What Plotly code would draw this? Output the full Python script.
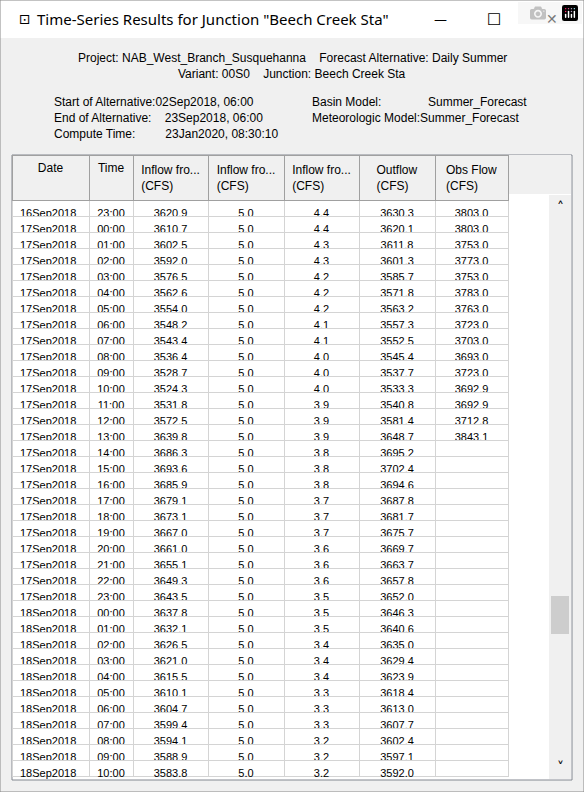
import plotly.graph_objects as go

# table data
dates = ["16Sep2018"] + ["17Sep2018"] * 24 + ["18Sep2018"] * 11
times = ["23:00"] + [f"{h:02d}:00" for h in range(24)] + [f"{h:02d}:00" for h in range(11)]
inflow_1 = [3620.9, 3610.7, 3602.5, 3592.0, 3576.5, 3562.6, 3554.0, 3548.2, 3543.4, 3536.4,
            3528.7, 3524.3, 3531.8, 3572.5, 3639.8, 3686.3, 3693.6, 3685.9, 3679.1, 3673.1,
            3667.0, 3661.0, 3655.1, 3649.3, 3643.5, 3637.8, 3632.1, 3626.5, 3621.0, 3615.5,
            3610.1, 3604.7, 3599.4, 3594.1, 3588.9, 3583.8]
inflow_2 = [5.0] * 36
inflow_3 = [4.4, 4.4, 4.3, 4.3, 4.2, 4.2, 4.2, 4.1, 4.1, 4.0, 4.0, 4.0, 3.9, 3.9, 3.9, 3.8,
            3.8, 3.8, 3.7, 3.7, 3.7, 3.6, 3.6, 3.6, 3.5, 3.5, 3.5, 3.4, 3.4, 3.4, 3.3, 3.3,
            3.3, 3.2, 3.2, 3.2]
outflow = [3630.3, 3620.1, 3611.8, 3601.3, 3585.7, 3571.8, 3563.2, 3557.3, 3552.5, 3545.4,
           3537.7, 3533.3, 3540.8, 3581.4, 3648.7, 3695.2, 3702.4, 3694.6, 3687.8, 3681.7,
           3675.7, 3669.7, 3663.7, 3657.8, 3652.0, 3646.3, 3640.6, 3635.0, 3629.4, 3623.9,
           3618.4, 3613.0, 3607.7, 3602.4, 3597.1, 3592.0]
obs_flow = [3803.0, 3803.0, 3753.0, 3773.0, 3753.0, 3783.0, 3763.0, 3723.0, 3703.0, 3693.0,
            3723.0, 3692.9, 3692.9, 3712.8, 3843.1]
headers = ["Date", "Time", "Inflow fro...<br>(CFS)", "Inflow fro...<br>(CFS)",
           "Inflow fro...<br>(CFS)", "Outflow<br>(CFS)", "Obs Flow<br>(CFS)"]

W, H = 584, 792


def px(x):
    return x / W


def py(y):
    return 1 - y / H


fmt = lambda v: f"{v:.1f}"
obs_col = [fmt(v) for v in obs_flow] + [""] * (len(dates) - len(obs_flow))

fig = go.Figure()
fig.add_trace(go.Table(
    domain=dict(x=[px(12), px(508)], y=[py(780), py(155)]),
    columnwidth=[77, 44, 75, 76, 75, 76, 73],
    header=dict(values=headers, fill_color="#F0F0F0", line_color="#A0A0A0",
                align="center", height=40,
                font=dict(family="Liberation Sans", size=12, color="black")),
    cells=dict(values=[dates, times, [fmt(v) for v in inflow_1], [fmt(v) for v in inflow_2],
                       [fmt(v) for v in inflow_3], [fmt(v) for v in outflow], obs_col],
               fill_color="white", line_color="#D4D4D4", height=16,
               align=["left", "center", "center", "center", "center", "center", "center"],
               font=dict(family="Liberation Sans", size=11, color="black"))))

shapes = [
    dict(type="rect", x0=0, x1=1, y0=py(38), y1=1, fillcolor="white", line_width=0, layer="below"),
    dict(type="rect", x0=px(12), x1=px(572), y0=py(780), y1=py(155), fillcolor="white",
         line=dict(color="#828790", width=1), layer="below"),
    dict(type="rect", x0=px(508), x1=px(571), y0=py(194), y1=py(155), fillcolor="#F0F0F0",
         line_width=0, layer="below"),
    dict(type="rect", x0=px(549), x1=px(571), y0=py(779), y1=py(195), fillcolor="#F0F0F0",
         line_width=0),
    dict(type="rect", x0=px(551), x1=px(569), y0=py(634), y1=py(596), fillcolor="#CDCDCD",
         line_width=0),
    dict(type="rect", x0=0, x1=1, y0=0, y1=1, line=dict(color="#888888", width=1),
         fillcolor="rgba(0,0,0,0)"),
]

ann = []


def text(x, y, s, size=12, anchor="left", family="Liberation Sans", color="black"):
    ann.append(dict(x=px(x), y=py(y), text=s, showarrow=False, xanchor=anchor, yanchor="middle",
                    font=dict(family=family, size=size, color=color)))


text(35, 19, 'Time-Series Results for Junction "Beech Creek Sta"', size=15, family="Noto Sans")
text(17, 19, "⊡", size=14, family="DejaVu Sans")
text(440, 19, "—", size=13, anchor="center", family="DejaVu Sans")
text(494, 19, "☐", size=16, anchor="center", family="DejaVu Sans")
text(552, 19, "✕", size=14, anchor="center", family="DejaVu Sans")
text(292, 58, "Project: NAB_West_Branch_Susquehanna&nbsp;&nbsp;&nbsp;&nbsp;Forecast Alternative: Daily Summer",
     anchor="center")
text(292, 74, "Variant: 00S0&nbsp;&nbsp;&nbsp;&nbsp;Junction: Beech Creek Sta", anchor="center")
text(52, 102, "Start of Alternative:02Sep2018, 06:00")
text(52, 118, "End of Alternative:&nbsp;&nbsp;&nbsp;&nbsp;23Sep2018, 06:00")
text(52, 134, "Compute Time:&nbsp;&nbsp;&nbsp;&nbsp;&nbsp;&nbsp;&nbsp;&nbsp;&nbsp;23Jan2020, 08:30:10")
text(310, 102, "Basin Model:")
text(426, 102, "Summer_Forecast")
text(310, 118, "Meteorologic Model:Summer_Forecast")
text(560, 207, "˄", size=14, anchor="center", family="DejaVu Sans")
text(560, 767, "˅", size=14, anchor="center", family="DejaVu Sans")

fig.update_layout(width=W, height=H, margin=dict(l=0, r=0, t=0, b=0),
                  paper_bgcolor="#F0F0F0", plot_bgcolor="#F0F0F0",
                  xaxis=dict(visible=False, range=[0, 1]), yaxis=dict(visible=False, range=[0, 1]),
                  shapes=[dict(s, xref="paper", yref="paper") for s in shapes],
                  annotations=ann)
fig.write_html("out.html",
               post_script="document.body.style.margin='0';document.body.style.overflow='hidden';")
